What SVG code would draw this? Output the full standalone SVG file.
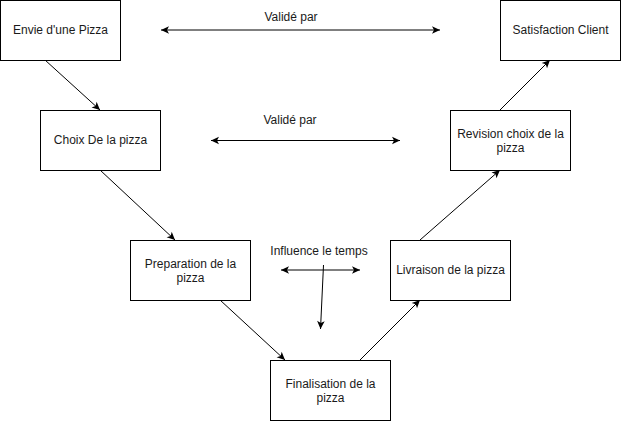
<svg xmlns="http://www.w3.org/2000/svg" width="621" height="421" viewBox="0 0 621 421">
<defs>
<marker id="arr" markerUnits="userSpaceOnUse" markerWidth="12" markerHeight="12" viewBox="-10 -6 12 12" refX="0" refY="0" orient="auto-start-reverse">
<path d="M0,0 L-8,-3.8 L-6,0 L-8,3.8 Z" fill="#000"/>
</marker>
<style>
.box{fill:#fff;stroke:#000;stroke-width:1}
.t{font-family:"Liberation Sans",Arial,Helvetica,sans-serif;font-size:12px;fill:#1a1a1a;text-anchor:middle}
.e{fill:none;stroke:#000;stroke-width:1}
</style>
</defs>
<rect width="621" height="421" fill="#fff"/>
<g id="connectors">
<path class="e" d="M45,60 L100,110" marker-end="url(#arr)"/>
<path class="e" d="M100,170 L175,240" marker-end="url(#arr)"/>
<path class="e" d="M220,300 L285,360" marker-end="url(#arr)"/>
<path class="e" d="M360,360 L420,300" marker-end="url(#arr)"/>
<path class="e" d="M420,240 L500,170" marker-end="url(#arr)"/>
<path class="e" d="M500,110 L550,60" marker-end="url(#arr)"/>
<path class="e" d="M161,30 L440,30" marker-start="url(#arr)" marker-end="url(#arr)"/>
<path class="e" d="M211,140.5 L400,140.5" marker-start="url(#arr)" marker-end="url(#arr)"/>
<path class="e" d="M281,270 L360,270" marker-start="url(#arr)" marker-end="url(#arr)"/>
<path class="e" d="M323.5,265 L320.5,329" marker-end="url(#arr)"/>
<text class="t" x="291" y="21">Validé par</text>
<text class="t" x="290" y="124">Validé par</text>
<text class="t" x="319" y="255">Influence le temps</text>
</g>
<g id="n1"><rect class="box" x="0.5" y="0.5" width="120" height="60"/><text class="t" x="60.5" y="34">Envie d'une Pizza</text></g>
<g id="n2"><rect class="box" x="40.5" y="110.5" width="120" height="60"/><text class="t" x="100.5" y="144">Choix De la pizza</text></g>
<g id="n3"><rect class="box" x="130.5" y="240.5" width="120" height="60"/><text class="t" x="190.5" y="268">Preparation de la</text><text class="t" x="190.5" y="282">pizza</text></g>
<g id="n4"><rect class="box" x="270.5" y="360.5" width="120" height="60"/><text class="t" x="330.5" y="388">Finalisation de la</text><text class="t" x="330.5" y="402">pizza</text></g>
<g id="n5"><rect class="box" x="390.5" y="240.5" width="120" height="60"/><text class="t" x="450.5" y="274">Livraison de la pizza</text></g>
<g id="n6"><rect class="box" x="450.5" y="110.5" width="120" height="60"/><text class="t" x="510.5" y="138">Revision choix de la</text><text class="t" x="510.5" y="152">pizza</text></g>
<g id="n7"><rect class="box" x="500.5" y="0.5" width="120" height="60"/><text class="t" x="560.5" y="34">Satisfaction Client</text></g>
</svg>
